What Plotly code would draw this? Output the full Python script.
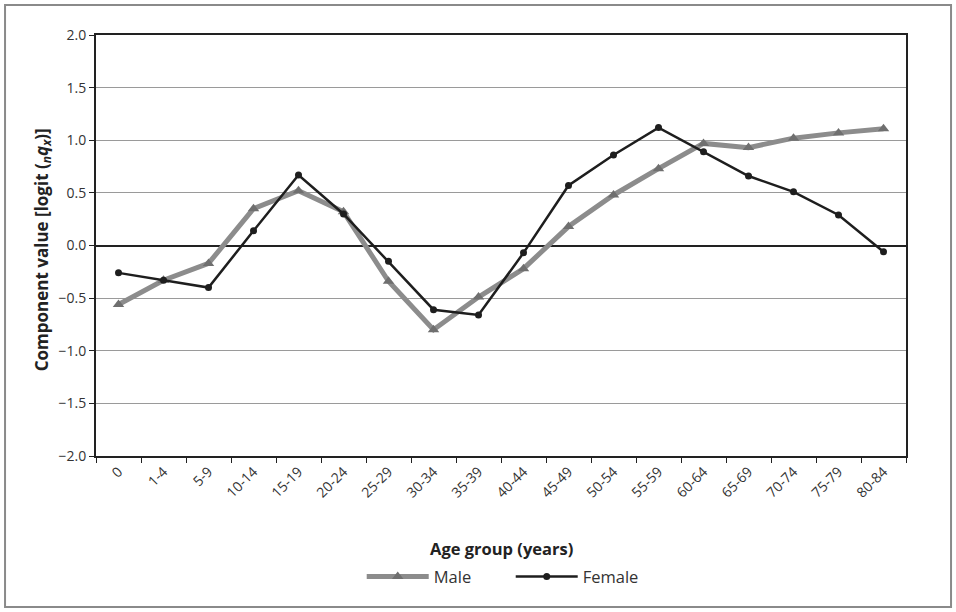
import plotly.graph_objects as go

# Age groups (category axis)
age_groups = ["0", "1-4", "5-9", "10-14", "15-19", "20-24", "25-29", "30-34", "35-39",
              "40-44", "45-49", "50-54", "55-59", "60-64", "65-69", "70-74", "75-79", "80-84"]

# Component values, logit(nqx)
male = [-0.56, -0.33, -0.17, 0.35, 0.52, 0.32, -0.34, -0.80, -0.49,
        -0.22, 0.18, 0.48, 0.73, 0.97, 0.93, 1.02, 1.07, 1.11]
female = [-0.26, -0.33, -0.40, 0.14, 0.67, 0.30, -0.15, -0.61, -0.66,
          -0.07, 0.57, 0.86, 1.12, 0.89, 0.66, 0.51, 0.29, -0.06]

y_ticks = [-2.0, -1.5, -1.0, -0.5, 0.0, 0.5, 1.0, 1.5, 2.0]

FONT = "Open Sans"

fig = go.Figure()
fig.add_trace(go.Scatter(
    x=age_groups, y=male, name="Male", mode="lines+markers",
    line=dict(color="#8c8c8c", width=5),
    marker=dict(symbol="triangle-up", size=10, color="#6f6f6f"),
))
fig.add_trace(go.Scatter(
    x=age_groups, y=female, name="Female", mode="lines+markers",
    line=dict(color="#1e1e1e", width=2.5),
    marker=dict(symbol="circle", size=7, color="#1e1e1e"),
))

fig.update_layout(
    width=956, height=612,
    margin=dict(l=96, r=50, t=35, b=156),
    paper_bgcolor="white", plot_bgcolor="white",
    font=dict(family=FONT, color="#333333", size=14),
    showlegend=True,
    legend=dict(orientation="h", x=0.512, xanchor="center", y=-0.287, yanchor="middle",
                font=dict(size=16.5, color="#333333"), itemwidth=62,
                entrywidth=72, bgcolor="rgba(0,0,0,0)"),
    xaxis=dict(
        type="category", tickangle=-45, tickson="boundaries",
        ticks="outside", ticklen=5, tickcolor="#222", tickwidth=1,
        showline=True, linecolor="#222", linewidth=2, mirror=True,
        showgrid=False, zeroline=False,
        tickfont=dict(size=14, color="#333333"),
        range=[-0.5, len(age_groups) - 0.5],
    ),
    yaxis=dict(
        range=[-2.0, 2.0], tickvals=y_ticks, tickformat=".1f",
        ticks="outside", ticklen=5, tickcolor="#222", tickwidth=1,
        showline=True, linecolor="#222", linewidth=2, mirror=True,
        showgrid=True, gridcolor="#9a9a9a", gridwidth=1,
        zeroline=True, zerolinecolor="#222", zerolinewidth=1.5,
        tickfont=dict(size=14, color="#333333"),
    ),
    annotations=[
        dict(text="<b>Age group (years)</b>", xref="paper", yref="paper",
             x=0.5, y=-0.219, xanchor="center", yanchor="middle",
             showarrow=False, font=dict(size=16.5, color="#222222")),
        dict(text="<b>Component value [logit (<sub><i>n</i></sub><i>q<sub>x</sub></i>)]</b>",
             xref="paper", yref="paper", x=-0.066, y=0.49, textangle=-90,
             xanchor="center", yanchor="middle", showarrow=False,
             font=dict(size=17, color="#222222")),
    ],
    shapes=[
        dict(type="rect", xref="paper", yref="paper",
             x0=-0.1123, x1=1.0556, y0=-0.3587, y1=1.0713,
             line=dict(color="#8a8a8a", width=2), layer="below"),
    ],
)

fig.write_html("out.html")
